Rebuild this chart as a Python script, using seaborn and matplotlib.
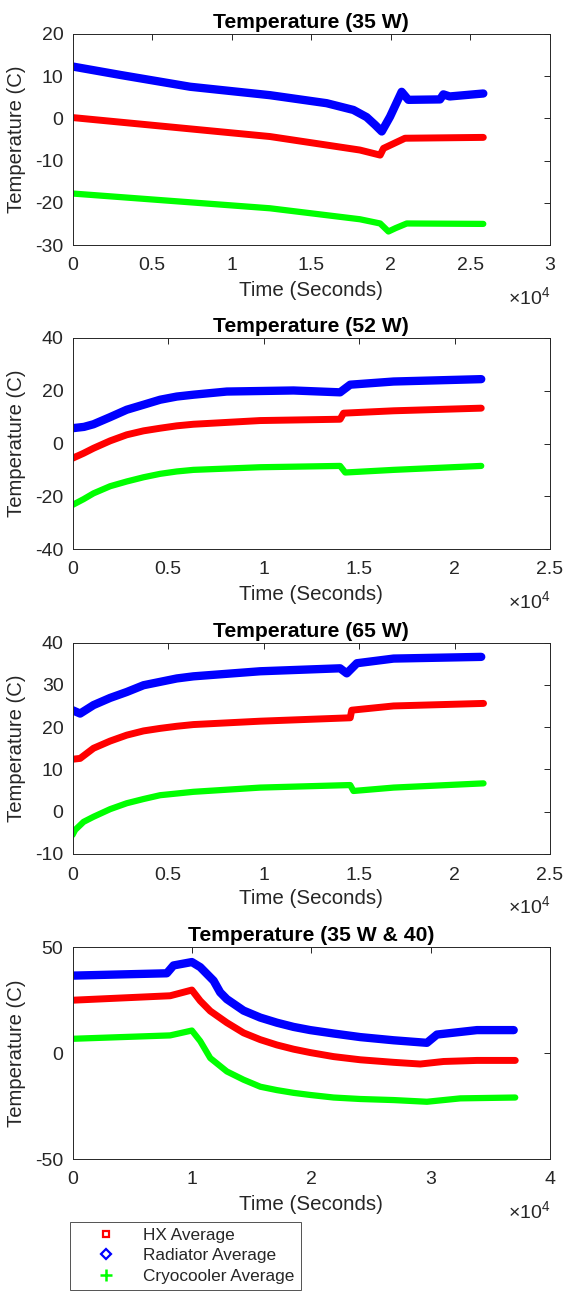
import pandas as pd
import seaborn as sns
import matplotlib.pyplot as plt
from matplotlib.lines import Line2D
from matplotlib.ticker import FuncFormatter

# ---- data (time in seconds, temperature in C) ----
# Panel 1: 35 W
t35_rad = [0, 3000, 7390, 12410, 15970, 17650, 18480, 19000, 19430, 19950, 20680, 21100, 23090, 23300, 23700, 25810]
rad35 = [12.3, 10.3, 7.5, 5.5, 3.6, 2.0, 0.3, -1.5, -3.1, 0.4, 6.3, 4.4, 4.5, 5.7, 5.2, 5.9]
t35_hx = [0, 12410, 18060, 19330, 19540, 20890, 25810]
hx35 = [0.2, -4.3, -7.5, -8.7, -7.1, -4.7, -4.5]
t35_cryo = [0, 12410, 18060, 19330, 19850, 20300, 21000, 25810]
cryo35 = [-17.8, -21.3, -23.9, -24.9, -26.8, -26.0, -24.9, -25.0]

# Panel 2: 52 W
t52_rad = [0, 600, 1100, 1970, 2840, 3720, 4590, 5460, 6330, 8080, 11570, 14010, 14540, 16810, 21400]
rad52 = [5.8, 6.3, 7.3, 10.0, 12.8, 14.7, 16.6, 17.8, 18.5, 19.7, 20.1, 19.4, 22.3, 23.5, 24.4]
t52_hx = [0, 580, 1100, 1970, 2840, 3720, 4590, 5460, 6330, 9830, 14010, 14190, 16810, 21400]
hx52 = [-5.6, -3.7, -1.8, 1.0, 3.3, 4.8, 5.8, 6.7, 7.3, 8.7, 9.2, 11.5, 12.4, 13.4]
t52_cryo = [0, 580, 1100, 1970, 2840, 3720, 4590, 5460, 6330, 9830, 14010, 14280, 16810, 21400]
cryo52 = [-23.3, -21.1, -18.9, -16.2, -14.4, -12.8, -11.5, -10.6, -10.0, -9.0, -8.5, -11.0, -10.0, -8.5]

# Panel 3: 65 W
t65_rad = [0, 400, 1100, 1970, 2840, 3720, 4590, 5460, 6330, 9830, 14010, 14360, 14890, 16810, 21400]
rad65 = [24.0, 23.2, 25.2, 26.9, 28.3, 29.9, 30.7, 31.5, 32.0, 33.2, 33.9, 32.7, 35.1, 36.2, 36.6]
t65_hx = [0, 400, 750, 1100, 1970, 2840, 3720, 4590, 5460, 6330, 9830, 14540, 14620, 16810, 21520]
hx65 = [12.4, 12.6, 13.8, 15.0, 16.7, 18.1, 19.1, 19.7, 20.2, 20.6, 21.4, 22.2, 24.0, 25.0, 25.6]
t65_cryo = [0, 140, 580, 1100, 1970, 2840, 3720, 4590, 5460, 6330, 9830, 14540, 14710, 16810, 21520]
cryo65 = [-5.5, -4.3, -2.4, -1.2, 0.6, 2.0, 3.0, 3.9, 4.3, 4.7, 5.7, 6.3, 4.9, 5.7, 6.7]

# Panel 4: 35 W & 40
t3540_rad = [0, 7900, 8460, 10000, 10700, 11820, 12370, 12930, 14330, 15730, 17120, 18520, 19920,
             21870, 24110, 26900, 29690, 30530, 33880, 36960]
rad3540 = [36.5, 37.6, 41.3, 42.9, 40.5, 34.1, 28.6, 25.4, 20.0, 16.7, 14.3, 12.3, 10.8,
           9.2, 7.5, 6.0, 4.8, 8.7, 10.8, 10.8]
t3540_hx = [0, 8180, 10000, 10700, 11540, 12930, 14330, 15730, 17120, 18520, 19920, 21870, 24110,
            26900, 29130, 31090, 33880, 37090]
hx3540 = [24.9, 27.0, 29.7, 24.6, 19.8, 14.3, 9.5, 6.3, 3.8, 1.8, 0.2, -1.7, -3.2,
          -4.4, -5.2, -4.0, -3.5, -3.5]
t3540_cryo = [0, 8180, 10000, 10700, 11540, 12930, 14330, 15730, 17120, 18520, 19920, 21870, 24110,
              26900, 29690, 32490, 37090]
cryo3540 = [6.7, 8.3, 10.6, 5.6, -2.4, -8.7, -12.6, -15.9, -17.5, -18.8, -19.8, -21.0, -21.7,
            -22.2, -23.0, -21.4, -21.0]

titles = ["Temperature (35 W)", "Temperature (52 W)", "Temperature (65 W)", "Temperature (35 W & 40)"]
yticks = [[-30, -20, -10, 0, 10, 20], [-40, -20, 0, 20, 40], [-10, 0, 10, 20, 30, 40], [-50, 0, 50]]
xticks = [[0, 5000, 10000, 15000, 20000, 25000, 30000],
          [0, 5000, 10000, 15000, 20000, 25000],
          [0, 5000, 10000, 15000, 20000, 25000],
          [0, 10000, 20000, 30000, 40000]]

panels = [
    [(t35_hx, hx35), (t35_rad, rad35), (t35_cryo, cryo35)],
    [(t52_hx, hx52), (t52_rad, rad52), (t52_cryo, cryo52)],
    [(t65_hx, hx65), (t65_rad, rad65), (t65_cryo, cryo65)],
    [(t3540_hx, hx3540), (t3540_rad, rad3540), (t3540_cryo, cryo3540)],
]
names = ["HX Average", "Radiator Average", "Cryocooler Average"]
colors = {"HX Average": "#ff0000", "Radiator Average": "#0000ff", "Cryocooler Average": "#00ff00"}
widths = {"HX Average": 5.0, "Radiator Average": 6.0, "Cryocooler Average": 4.5}

sns.set_style("white")
plt.rcParams["font.family"] = ["Liberation Sans", "DejaVu Sans"]
plt.rcParams["mathtext.fontset"] = "custom"
plt.rcParams["mathtext.rm"] = "Liberation Sans"
plt.rcParams["axes.unicode_minus"] = False

W, H = 564, 1293
left_px, right_px = 72.5, 550
boxes = [(34, 245), (338, 549), (642.5, 854), (947, 1159)]
dark = "#262626"

fig = plt.figure(figsize=(W / 100, H / 100), dpi=100)

for i, (top, bot) in enumerate(boxes):
    ax = fig.add_axes([left_px / W, 1 - bot / H, (right_px - left_px) / W, (bot - top) / H])
    for name, (t, v) in zip(names, panels[i]):
        df = pd.DataFrame({"time": t, "temp": v})
        sns.lineplot(data=df, x="time", y="temp", ax=ax, color=colors[name],
                     linewidth=widths[name], sort=False, estimator=None,
                     solid_capstyle="round", solid_joinstyle="round")
    ax.set_xlim(xticks[i][0], xticks[i][-1])
    ax.set_ylim(yticks[i][0], yticks[i][-1])
    ax.set_xticks(xticks[i])
    ax.set_yticks(yticks[i])
    ax.xaxis.set_major_formatter(FuncFormatter(lambda x, p: f"{x / 1e4:g}"))
    ax.tick_params(direction="in", top=True, right=True, length=4, width=0.7,
                   labelsize=14, colors=dark, labelcolor=dark)
    ax.tick_params(axis="x", pad=9)
    ax.tick_params(axis="y", pad=6.5)
    for s in ax.spines.values():
        s.set_color(dark)
        s.set_linewidth(0.7)
    ax.set_title(titles[i], fontsize=15.2, fontweight="bold", pad=4, color="black")
    ax.set_xlabel("Time (Seconds)", fontsize=14.8, color=dark, va="center")
    ax.xaxis.set_label_coords(0.5, -45 / (bot - top))
    ax.set_ylabel("Temperature (C)", fontsize=14.6, color=dark, va="center")
    ax.yaxis.set_label_coords((17 - left_px) / (right_px - left_px), 0.5)
    ax.text(1.0, -53 / (bot - top), r"$\times10^{4}$", transform=ax.transAxes,
            ha="right", va="center", fontsize=14, color=dark)

handles = [
    Line2D([], [], linestyle="none", marker="s", markersize=5, markerfacecolor="none",
           markeredgecolor="#ff0000", markeredgewidth=1.6),
    Line2D([], [], linestyle="none", marker="D", markersize=5, markerfacecolor="none",
           markeredgecolor="#0000ff", markeredgewidth=1.6),
    Line2D([], [], linestyle="none", marker="+", markersize=8, markerfacecolor="none",
           markeredgecolor="#00ff00", markeredgewidth=1.8),
]
leg = fig.legend(handles, names, loc="upper left", bbox_to_anchor=(70 / W, 1 - 1222 / H),
                 fontsize=12.4, frameon=True, fancybox=False, borderaxespad=0,
                 handlelength=3.5, handletextpad=0.4, labelspacing=0.3, borderpad=0.35)
leg.get_frame().set_edgecolor(dark)
leg.get_frame().set_linewidth(0.7)
for txt in leg.get_texts():
    txt.set_color(dark)

fig.savefig("out.png", dpi=100)
